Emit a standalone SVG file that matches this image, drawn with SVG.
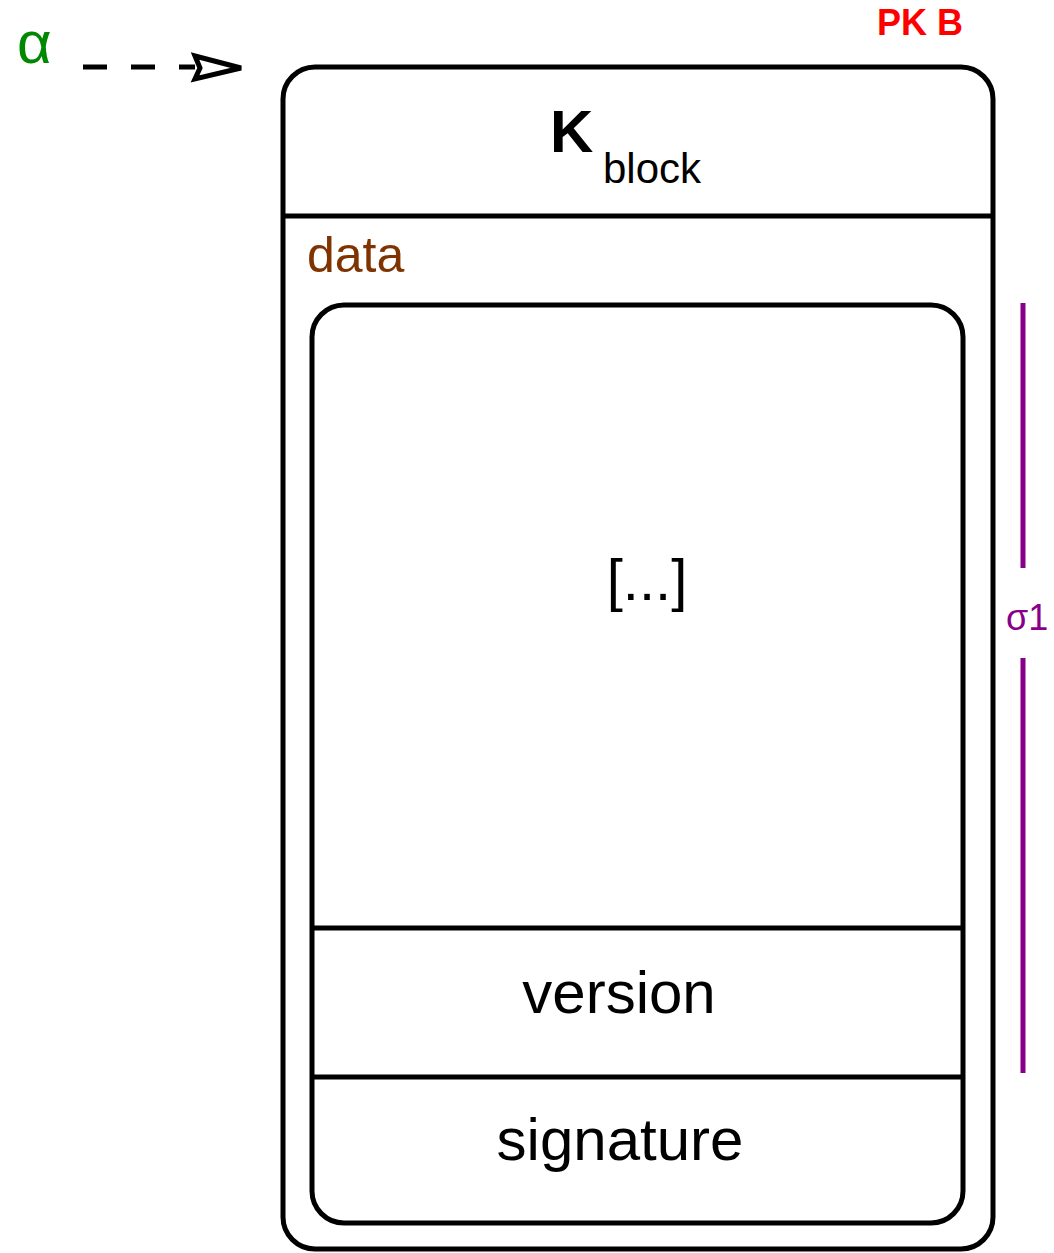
<svg xmlns="http://www.w3.org/2000/svg" width="1054" height="1253" viewBox="0 0 1054 1253">
<style>
.box{fill:none;stroke:#000;stroke-width:5}
.t{font-family:"Liberation Sans",Arial,sans-serif}
.c{text-anchor:middle}
</style>
<rect width="1054" height="1253" fill="#fff"/>
<g id="connectors">
<line x1="83" y1="67" x2="195" y2="67" stroke="#000" stroke-width="5" stroke-dasharray="24,24"/>
<polygon points="195,56 241,68 195,79 200,68" fill="#fff" stroke="#000" stroke-width="5" stroke-linejoin="miter"/>
</g>
<g id="alpha"><text class="t" x="17" y="63" font-size="60" fill="#008800">α</text></g>
<g id="pkb"><text class="t" x="877" y="35" font-size="36" font-weight="bold" fill="#ff0000">PK B</text></g>
<g id="block">
<rect class="box" x="283" y="67" width="710" height="1182" rx="32" ry="32"/>
<line class="box" x1="283" y1="216" x2="993" y2="216"/>
<text class="t" x="550" y="152" font-size="60" font-weight="bold">K</text>
<text class="t" x="603" y="183" font-size="42">block</text>
<text class="t" x="307" y="272" font-size="50" fill="#7f3300">data</text>
</g>
<g id="data">
<rect class="box" x="312" y="305" width="651" height="918" rx="32" ry="32"/>
<line class="box" x1="312" y1="928" x2="963" y2="928"/>
<line class="box" x1="312" y1="1077" x2="963" y2="1077"/>
<text class="t c" x="647" y="600" font-size="58">[...]</text>
</g>
<g id="version"><text class="t c" x="619" y="1013" font-size="60">version</text></g>
<g id="signature"><text class="t c" x="620" y="1160" font-size="60">signature</text></g>
<g id="sigma">
<line x1="1023" y1="303" x2="1023" y2="568" stroke="#880088" stroke-width="5"/>
<line x1="1023" y1="658" x2="1023" y2="1073" stroke="#880088" stroke-width="5"/>
<text class="t" x="1006" y="630" font-size="36" fill="#880088">σ1</text>
</g>
</svg>
